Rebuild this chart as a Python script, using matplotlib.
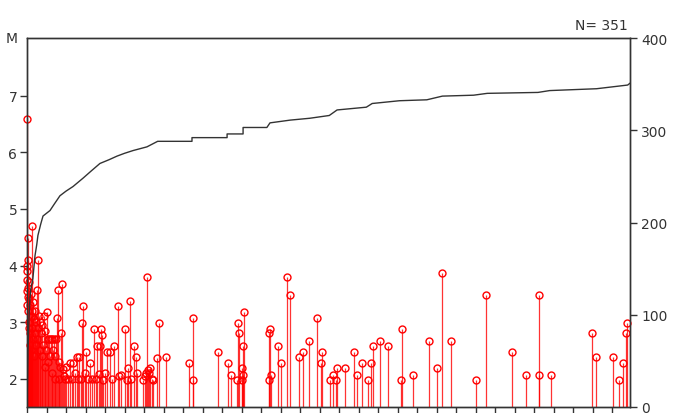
import matplotlib
matplotlib.use("Agg")
import matplotlib.pyplot as plt

ev_t = [0.00, 0.00, 0.00, 0.00, 0.02, 0.02, 0.04, 0.05, 0.05, 0.05, 0.07, 0.08, 0.10, 0.10, 0.12,
        0.13, 0.15, 0.17, 0.18, 0.20, 0.22, 0.24, 0.26, 0.28, 0.30, 0.32, 0.35, 0.37, 0.40, 0.42,
        0.45, 0.48, 0.51, 0.53, 0.56, 0.58, 0.62, 0.65, 0.68, 0.72, 0.75, 0.78, 0.82, 0.87, 0.90,
        0.92, 0.97, 1.03, 1.06, 1.10, 1.13, 1.18, 1.22, 1.26, 1.30, 1.34, 1.38, 1.42, 1.46, 1.50,
        1.54, 1.59, 1.62, 1.66, 1.69, 1.74, 1.79, 1.85, 1.90, 1.95, 2.00, 2.10, 2.20, 2.30, 2.36,
        2.45, 2.56, 2.62, 2.67, 2.75, 2.82, 2.87, 2.95, 3.03, 3.15, 3.23, 3.33, 3.44, 3.52, 3.59,
        3.69, 3.74, 3.79, 3.85, 3.90, 4.00, 4.10, 4.26, 4.35, 4.46, 4.67, 4.72, 4.82, 5.03, 5.13,
        5.18, 5.28, 5.33, 5.49, 5.59, 5.64, 5.95, 6.05, 6.10, 6.15, 6.20, 6.25, 6.31, 6.40, 6.46,
        6.67, 6.77, 7.13, 8.31, 8.51, 8.51, 9.79, 10.31, 10.46, 10.77, 10.82, 10.87, 11.03, 11.03,
        11.08, 11.08, 11.13, 12.41, 12.41, 12.46, 12.51, 12.87, 13.03, 13.33, 13.49, 13.95, 14.15,
        14.46, 14.87, 15.08, 15.13, 15.54, 15.69, 15.85, 15.90, 16.31, 16.77, 16.92, 17.18, 17.49,
        17.64, 17.74, 18.10, 18.51, 19.18, 19.23, 19.79, 20.62, 21.03, 21.28, 21.74, 23.03, 23.54,
        24.87, 25.59, 26.26, 26.26, 26.87, 28.97, 29.18, 30.05, 30.36, 30.56, 30.72, 30.77]
ev_m = [6.59, 4.00, 3.90, 3.55, 3.75, 3.30, 3.45, 4.49, 4.10, 3.60, 3.20, 2.90, 3.40, 3.00, 3.70,
        2.60, 3.30, 2.80, 3.50, 3.10, 2.50, 3.20, 4.69, 2.90, 3.35, 2.70, 3.05, 2.40, 3.20, 2.80,
        2.60, 3.00, 3.57, 2.70, 4.10, 2.90, 3.10, 2.50, 3.00, 2.80, 2.40, 2.95, 2.60, 3.10, 2.20,
        2.85, 2.50, 3.18, 2.70, 2.30, 2.70, 2.40, 2.70, 2.10, 2.70, 2.50, 2.70, 2.00, 2.40, 2.70,
        3.08, 3.57, 2.30, 2.00, 2.20, 2.80, 3.68, 2.18, 2.05, 2.00, 2.20, 2.00, 2.27, 2.00, 2.27,
        2.10, 2.39, 2.00, 2.39, 2.00, 2.99, 3.29, 2.10, 2.48, 2.00, 2.28, 2.00, 2.87, 2.00, 2.58,
        2.08, 2.58, 2.87, 2.78, 1.98, 2.10, 2.48, 2.48, 2.00, 2.58, 3.29, 2.05, 2.07, 2.87, 1.98,
        2.19, 3.38, 2.00, 2.58, 2.39, 2.10, 1.98, 2.05, 2.10, 3.80, 2.15, 2.10, 2.19, 2.00, 1.98,
        2.37, 2.99, 2.39, 2.27, 3.08, 1.98, 2.48, 2.27, 2.07, 1.98, 2.99, 2.80, 2.19, 1.98,
        2.57, 2.07, 3.18, 2.80, 1.98, 2.88, 2.07, 2.57, 2.27, 3.80, 3.48, 2.39, 2.48,
        2.67, 3.08, 2.27, 2.48, 1.98, 2.07, 1.98, 2.19, 2.19, 2.48, 2.07, 2.27, 1.98,
        2.27, 2.57, 2.67, 2.57, 1.98, 2.88, 2.07, 2.67, 2.19, 3.87, 2.67, 1.98, 3.48,
        2.48, 2.07, 3.48, 2.07, 2.07, 2.80, 2.39, 2.39, 1.98, 2.27, 2.80, 2.99]

# cumulative number of events (right axis)
cum_t = [0.00, 0.02, 0.05, 0.10, 0.15, 0.20, 0.30, 0.41, 0.50, 0.56, 0.70, 0.82, 1.00, 1.18, 1.40,
         1.69, 2.00, 2.36, 2.87, 3.30, 3.74, 4.20, 4.62, 5.00, 5.44, 6.15, 6.70, 8.46, 8.46, 10.26,
         10.26, 11.08, 11.08, 12.30, 12.46, 13.50, 14.50, 15.50, 15.90, 17.40, 17.70, 19.10, 20.50,
         21.30, 22.90, 23.60, 26.20, 26.80, 29.20, 30.00, 30.80, 30.92]
cum_n = [0, 25, 60, 95, 118, 128, 139, 164, 176, 186, 198, 207, 210, 213, 220,
         229, 234, 239, 248, 256, 264, 268, 272, 275, 278, 282, 288, 288, 292, 292,
         296, 296, 303, 303, 308, 311, 313, 316, 322, 325, 329, 332, 333,
         337, 338, 340, 341, 343, 345, 347, 349, 351]

n_total = 351

fig = plt.figure(figsize=(6.83, 4.14), dpi=100)
ax = fig.add_axes([27 / 683, 6 / 414, 603 / 683, 369 / 414])
ax2 = ax.twinx()

frame = "#333333"
for a in (ax, ax2):
    for s in a.spines.values():
        s.set_color(frame)
        s.set_linewidth(1.0)

ax.vlines(ev_t, 1.5, ev_m, color="red", linewidth=0.9, alpha=0.8, zorder=2)
ax.plot(ev_t, ev_m, "o", markersize=5, markerfacecolor="none",
        markeredgecolor="red", markeredgewidth=1.0, clip_on=False, zorder=3)

ax2.plot(cum_t, cum_n, color="#333333", linewidth=1.0)

ax.set_xlim(0, 30.92)
ax.set_ylim(1.5, 8.02)
ax2.set_ylim(0, 400)
ax.set_xticks(range(0, 31))
ax.set_xticklabels([])
ax.set_yticks([2, 3, 4, 5, 6, 7])
ax2.set_yticks([0, 100, 200, 300, 400])

ax.tick_params(axis="y", direction="out", length=5, width=1, colors=frame,
               labelsize=10, pad=2)
ax.tick_params(axis="x", direction="out", length=5, width=1, colors=frame)
ax2.tick_params(axis="y", direction="out", length=5, width=1, colors=frame,
                labelsize=10, pad=3)

ax.text(-0.015, 1.0, "M", transform=ax.transAxes, ha="right", va="center",
        fontsize=10, color=frame)
ax.text(0.997, 1.015, f"N= {n_total}", transform=ax.transAxes, ha="right",
        va="bottom", fontsize=10, color=frame)

fig.savefig("out.png", dpi=100)
